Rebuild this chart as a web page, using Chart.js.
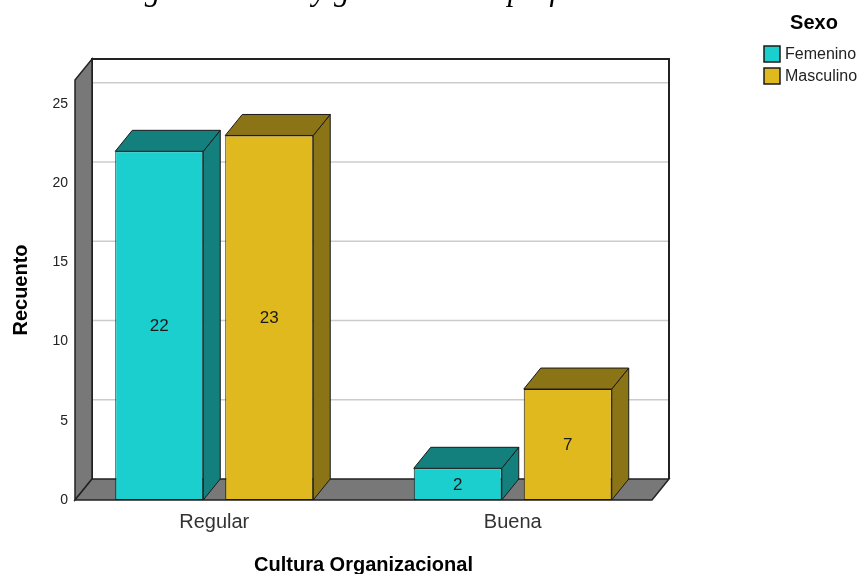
<!DOCTYPE html>
<html lang="es">
<head>
    <meta charset="UTF-8">
    <title>Cultura Organizacional por Sexo</title>
    <script src="https://cdn.jsdelivr.net/npm/chart.js"></script>
    <style>
        html, body { margin: 0; padding: 0; background: #fff; }
        #wrap { width: 864px; height: 574px; }
    </style>
</head>
<body>
    <div id="wrap"><canvas id="grafica"></canvas></div>

    <script>
        // Datos
        const categorias = ['Regular', 'Buena'];
        const series = ['Femenino', 'Masculino'];
        const femenino = [22, 2];
        const masculino = [23, 7];
        const ticksY = [0, 5, 10, 15, 20, 25];

        const colorFrente = ['#1ccfcf', '#e0b91f'];
        const colorLado = ['#13807d', '#8b7416'];

        // profundidad del efecto 3D
        const DX = 17, DY = 21;
        const MARGEN = 10;

        function poly(ctx, pts, fill, stroke, lw) {
            ctx.beginPath();
            ctx.moveTo(pts[0][0], pts[0][1]);
            for (let i = 1; i < pts.length; i++) ctx.lineTo(pts[i][0], pts[i][1]);
            ctx.closePath();
            if (fill) { ctx.fillStyle = fill; ctx.fill(); }
            if (stroke) { ctx.strokeStyle = stroke; ctx.lineWidth = lw || 1; ctx.stroke(); }
        }

        const caja3d = {
            id: 'caja3d',
            afterLayout(chart) {
                // las etiquetas del eje Y se salen un poco hacia la derecha
                chart.scales.y.right += 3;
            },
            beforeDatasetsDraw(chart) {
                const ctx = chart.ctx;
                const a = chart.chartArea;
                const y = chart.scales.y;
                const L = a.left + MARGEN, R = a.right - MARGEN, T = a.top, B = a.bottom;
                ctx.save();
                // pared de fondo
                ctx.fillStyle = '#fff';
                ctx.fillRect(L + DX, T - DY, R - L, B - T);
                // líneas de cuadrícula en la pared de fondo
                ctx.strokeStyle = '#cccccc';
                ctx.lineWidth = 1.5;
                y.ticks.forEach(t => {
                    if (t.value <= 0) return;
                    const yy = y.getPixelForValue(t.value) - DY;
                    ctx.beginPath();
                    ctx.moveTo(L + DX, yy);
                    ctx.lineTo(R + DX, yy);
                    ctx.stroke();
                });
                // borde de la pared de fondo
                ctx.strokeStyle = '#222';
                ctx.lineWidth = 2;
                ctx.beginPath();
                ctx.moveTo(L + DX, B - DY);
                ctx.lineTo(L + DX, T - DY);
                ctx.lineTo(R + DX, T - DY);
                ctx.lineTo(R + DX, B - DY);
                ctx.stroke();
                // pared izquierda
                poly(ctx, [[L, T], [L + DX, T - DY], [L + DX, B - DY], [L, B]], '#787878', '#222', 1.5);
                // piso
                poly(ctx, [[L, B], [L + DX, B - DY], [R + DX, B - DY], [R, B]], '#787878', '#222', 1.5);
                ctx.restore();
            },
            afterDatasetsDraw(chart) {
                const ctx = chart.ctx;
                ctx.save();
                chart.data.datasets.forEach((ds, i) => {
                    const meta = chart.getDatasetMeta(i);
                    meta.data.forEach((bar, j) => {
                        const p = bar.getProps(['x', 'y', 'base', 'width'], true);
                        const x1 = p.x - p.width / 2, x2 = p.x + p.width / 2;
                        const top = p.y, base = p.base;
                        // cara lateral
                        poly(ctx, [[x2, top], [x2 + DX, top - DY], [x2 + DX, base - DY], [x2, base]], colorLado[i], '#1a1a1a', 1);
                        // cara superior
                        poly(ctx, [[x1, top], [x1 + DX, top - DY], [x2 + DX, top - DY], [x2, top]], colorLado[i], '#1a1a1a', 1);
                        // etiqueta del valor
                        ctx.fillStyle = '#1a1a1a';
                        ctx.font = '17px "Liberation Sans", Arial, sans-serif';
                        ctx.textAlign = 'center';
                        ctx.textBaseline = 'middle';
                        ctx.fillText(String(ds.data[j]), p.x, (top + base) / 2 + 1);
                    });
                });
                ctx.restore();
            },
            afterDraw(chart) {
                const ctx = chart.ctx;
                ctx.save();
                // título cortado en la parte superior
                ctx.fillStyle = '#000';
                ctx.font = 'italic 31px "Liberation Serif", "Times New Roman", serif';
                ctx.textAlign = 'left';
                ctx.textBaseline = 'alphabetic';
                ctx.fillText('Cultura organizacional y género de los profesores', 14, 0);

                // leyenda
                ctx.font = 'bold 20px "Liberation Sans", Arial, sans-serif';
                ctx.textAlign = 'center';
                ctx.textBaseline = 'middle';
                ctx.fillText('Sexo', 814, 23);
                ctx.font = '16px "Liberation Sans", Arial, sans-serif';
                ctx.textAlign = 'left';
                series.forEach((s, i) => {
                    const yy = 46 + i * 22;
                    ctx.fillStyle = colorFrente[i];
                    ctx.fillRect(764, yy, 16, 16);
                    ctx.strokeStyle = '#1a1a1a';
                    ctx.lineWidth = 1.5;
                    ctx.strokeRect(764, yy, 16, 16);
                    ctx.fillStyle = '#222';
                    ctx.fillText(s, 785, yy + 9);
                });
                ctx.restore();
            }
        };

        new Chart(document.getElementById('grafica').getContext('2d'), {
            type: 'bar',
            data: {
                labels: categorias,
                datasets: [{
                    label: series[0],
                    data: femenino,
                    backgroundColor: colorFrente[0],
                    borderColor: '#1a1a1a',
                    borderWidth: 1,
                    borderSkipped: false
                }, {
                    label: series[1],
                    data: masculino,
                    backgroundColor: colorFrente[1],
                    borderColor: '#1a1a1a',
                    borderWidth: 1,
                    borderSkipped: false
                }]
            },
            options: {
                responsive: true,
                maintainAspectRatio: false,
                animation: false,
                layout: { padding: { top: 80, right: 202, left: 0, bottom: 0 } },
                datasets: { bar: { categoryPercentage: 0.737, barPercentage: 0.8 } },
                plugins: {
                    legend: { display: false },
                    tooltip: { enabled: false }
                },
                scales: {
                    x: {
                        grid: { display: false, drawTicks: false },
                        border: { display: false },
                        ticks: {
                            padding: 10,
                            color: '#333',
                            font: { family: '"Liberation Sans", Arial, sans-serif', size: 20 }
                        },
                        title: {
                            display: true,
                            text: 'Cultura Organizacional',
                            color: '#000',
                            padding: { top: 4, bottom: -3 },
                            font: { family: '"Liberation Sans", Arial, sans-serif', size: 20, weight: 'bold' }
                        },
                        afterFit(scale) { scale.height = 74; }
                    },
                    y: {
                        min: 0,
                        max: 26.5,
                        grid: { display: false, drawTicks: false },
                        border: { display: false },
                        ticks: {
                            stepSize: 5,
                            padding: 0,
                            color: '#222',
                            font: { family: '"Liberation Sans", Arial, sans-serif', size: 14 }
                        },
                        afterBuildTicks(scale) {
                            scale.ticks = ticksY.map(v => ({ value: v }));
                        },
                        title: {
                            display: true,
                            text: 'Recuento',
                            color: '#000',
                            padding: { top: 9, bottom: 0 },
                            font: { family: '"Liberation Sans", Arial, sans-serif', size: 20, weight: 'bold' }
                        },
                        afterFit(scale) { scale.width = 65; }
                    }
                }
            },
            plugins: [caja3d]
        });
    </script>
</body>
</html>
